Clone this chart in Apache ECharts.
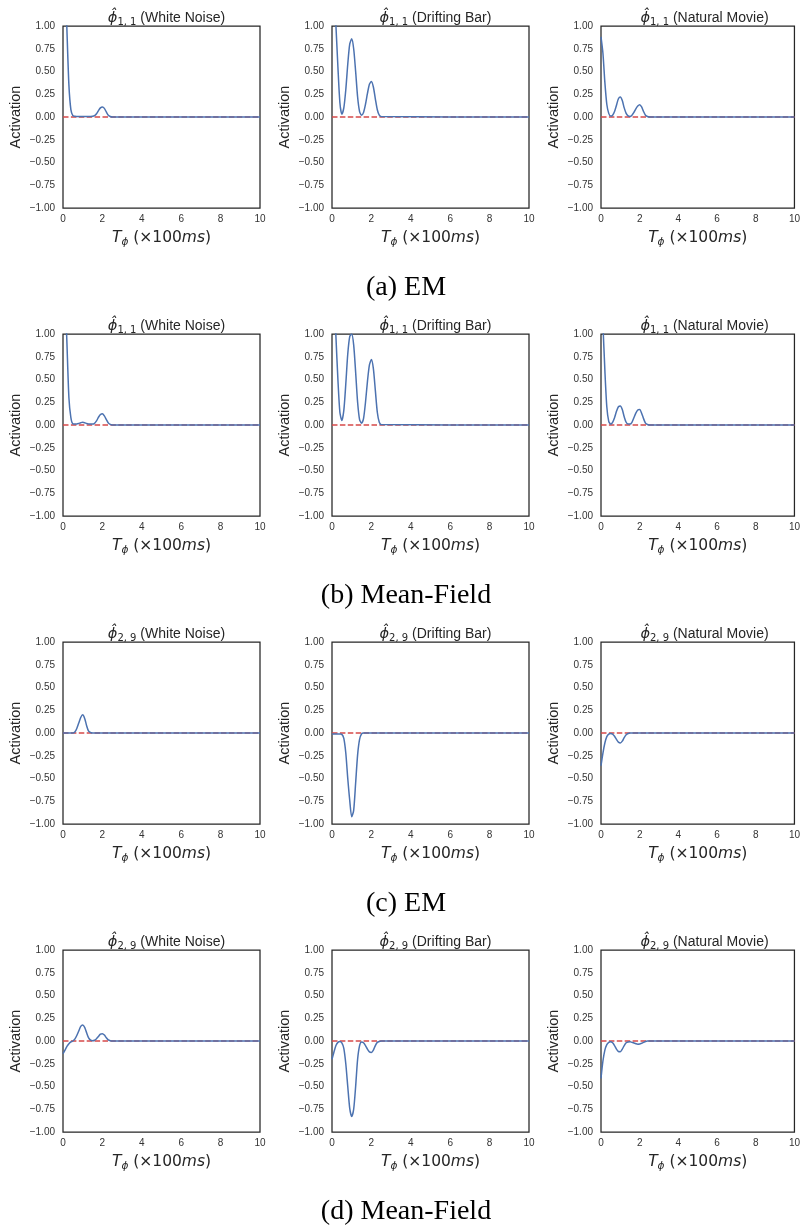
<!DOCTYPE html>
<html lang="en">
  <head>
    <meta charset="UTF-8" />
    <title>Learned basis activations</title>
    <script src="https://cdn.jsdelivr.net/npm/echarts@6.0.0/dist/echarts.min.js"></script>
    <style>
      body { margin: 0; background: #fff; }
    </style>
  </head>
  <body>
    <div id="main" style="width: 803px; height: 1226px"></div>
    <script type="text/javascript">
      // time grid (x 100ms), every curve is flat at zero after 2.5
      const times = [0, 0.1, 0.2, 0.3, 0.4, 0.5, 0.6, 0.7, 0.8, 0.9, 1.0, 1.1, 1.2, 1.3,
        1.4, 1.5, 1.6, 1.7, 1.8, 1.9, 2.0, 2.1, 2.2, 2.3, 2.4, 2.5, 10];

      // (a) EM, phi_{1,1}
      const emWhite11 = [2.3, 1.6, 0.95, 0.35, 0.08, 0.015, 0.008, 0.006, 0.005, 0.005, 0.005, 0.005, 0.005, 0.005,
        0.006, 0.008, 0.015, 0.035, 0.07, 0.1, 0.11, 0.095, 0.055, 0.02, 0.006, 0, 0];
      const emBar11 = [1.8, 1.38, 1.0, 0.55, 0.16, 0.03, 0.1, 0.3, 0.58, 0.8, 0.86, 0.75, 0.5, 0.22,
        0.06, 0.02, 0.05, 0.14, 0.26, 0.36, 0.39, 0.33, 0.2, 0.08, 0.02, 0.005, 0];
      const emMovie11 = [0.88, 0.7, 0.38, 0.14, 0.04, 0.01, 0.02, 0.06, 0.13, 0.2, 0.22, 0.18, 0.1, 0.04,
        0.012, 0.006, 0.02, 0.05, 0.09, 0.12, 0.135, 0.11, 0.06, 0.02, 0.005, 0, 0];

      // (b) Mean-Field, phi_{1,1}
      const mfWhite11 = [2.2, 1.5, 0.9, 0.3, 0.08, 0.012, 0.01, 0.012, 0.018, 0.025, 0.03, 0.025, 0.017, 0.012,
        0.01, 0.01, 0.018, 0.045, 0.085, 0.115, 0.125, 0.1, 0.06, 0.022, 0.006, 0, 0];
      const mfBar11 = [2.0, 1.5, 0.97, 0.5, 0.14, 0.05, 0.16, 0.45, 0.78, 0.97, 1.0, 0.88, 0.58, 0.25,
        0.06, 0.02, 0.07, 0.25, 0.48, 0.66, 0.72, 0.62, 0.38, 0.14, 0.03, 0.005, 0];
      const mfMovie11 = [1.5, 1.1, 0.6, 0.2, 0.04, 0.01, 0.03, 0.08, 0.15, 0.2, 0.21, 0.17, 0.09, 0.03,
        0.01, 0.01, 0.03, 0.08, 0.13, 0.165, 0.17, 0.13, 0.07, 0.02, 0.005, 0, 0];

      // (c) EM, phi_{2,9}
      const emWhite29 = [0, 0, 0, 0, 0, 0, 0.01, 0.05, 0.11, 0.17, 0.2, 0.16, 0.08, 0.02,
        0.005, 0, 0, 0, 0, 0, 0, 0, 0, 0, 0, 0, 0];
      const emBar29 = [-0.01, -0.01, -0.01, -0.01, -0.012, -0.015, -0.06, -0.22, -0.5, -0.74, -0.92, -0.85, -0.55, -0.24,
        -0.07, -0.01, 0, 0, 0, 0, 0, 0, 0, 0, 0, 0, 0];
      const emMovie29 = [-0.36, -0.22, -0.11, -0.04, -0.012, -0.006, -0.012, -0.035, -0.07, -0.1, -0.11, -0.09, -0.05, -0.02,
        -0.006, 0, 0, 0, 0, 0, 0, 0, 0, 0, 0, 0, 0];

      // (d) Mean-Field, phi_{2,9}
      const mfWhite29 = [-0.14, -0.1, -0.06, -0.03, -0.01, 0, 0.02, 0.06, 0.11, 0.16, 0.175, 0.15, 0.09, 0.035,
        0.01, 0.003, 0.008, 0.025, 0.05, 0.075, 0.08, 0.065, 0.035, 0.012, 0.003, 0, 0];
      const mfBar29 = [-0.2, -0.12, -0.05, -0.015, -0.005, -0.02, -0.08, -0.25, -0.5, -0.74, -0.83, -0.75, -0.5, -0.2,
        -0.05, -0.01, -0.02, -0.05, -0.09, -0.12, -0.125, -0.1, -0.05, -0.015, -0.005, 0, 0];
      const mfMovie29 = [-0.41, -0.22, -0.1, -0.04, -0.015, -0.008, -0.02, -0.05, -0.09, -0.115, -0.117, -0.09, -0.05, -0.02,
        -0.01, -0.008, -0.015, -0.022, -0.03, -0.035, -0.033, -0.025, -0.015, -0.005, 0, 0, 0];

      const stimuli = ["White Noise", "Drifting Bar", "Natural Movie"];
      const basisIndex = ["1, 1", "1, 1", "2, 9", "2, 9"];
      const captions = ["(a) EM", "(b) Mean-Field", "(c) EM", "(d) Mean-Field"];
      const curves = [
        [emWhite11, emBar11, emMovie11],
        [mfWhite11, mfBar11, mfMovie11],
        [emWhite29, emBar29, emMovie29],
        [mfWhite29, mfBar29, mfMovie29],
      ];
      const xTicks = [0, 2, 4, 6, 8, 10];

      const colLeft = [63, 332, 601];
      const rowTop = [26, 334, 642, 950];
      const plotW = 197;
      const plotH = 182;
      const ink = "#262626";

      const titles = [];
      const grids = [];
      const xAxes = [];
      const yAxes = [];
      const series = [];

      curves.forEach((row, r) => {
        titles.push({
          text: captions[r],
          left: 401,
          top: rowTop[r] + plotH + 61,
          textAlign: "center",
          textStyle: { fontFamily: "Liberation Serif", fontSize: 28, fontWeight: "normal", color: "#000" },
        });
        row.forEach((vals, c) => {
          const i = grids.length;
          titles.push({
            text: "{phi|\u03d5\u0302}{sub|" + basisIndex[r] + "}{txt| (" + stimuli[c] + ")}",
            left: colLeft[c] + plotW / 2,
            top: rowTop[r] - 22,
            textAlign: "center",
            textStyle: {
              fontWeight: "normal",
              rich: {
                phi: { fontFamily: "DejaVu Sans", fontStyle: "italic", fontWeight: "normal", fontSize: 14.5, color: ink, lineHeight: 18 },
                sub: { fontFamily: "DejaVu Sans", fontWeight: "normal", fontSize: 10, color: ink, lineHeight: 10, verticalAlign: "bottom" },
                txt: { fontFamily: "Liberation Sans", fontWeight: "normal", fontSize: 14, color: ink, lineHeight: 18 },
              },
            },
          });
          grids.push({
            left: colLeft[c],
            top: rowTop[r],
            width: plotW,
            height: plotH,
            show: true,
            borderColor: ink,
            borderWidth: 1.25,
          });
          xAxes.push({
            type: "value",
            gridIndex: i,
            min: 0,
            max: 10,
            interval: 2,
            name: "{it|T}{sub|\u03d5}{n| (×100}{it|ms}{n|)}",
            nameLocation: "middle",
            nameGap: 20,
            nameTextStyle: {
              rich: {
                it: { fontFamily: "DejaVu Sans", fontStyle: "italic", fontSize: 15.5, color: ink, lineHeight: 20 },
                n: { fontFamily: "DejaVu Sans", fontSize: 15.5, color: ink, lineHeight: 20 },
                sub: { fontFamily: "DejaVu Sans", fontStyle: "italic", fontSize: 10.5, color: ink, lineHeight: 11, verticalAlign: "bottom" },
              },
            },
            axisLine: { show: false },
            axisTick: { show: false },
            splitLine: { show: false },
            axisLabel: {
              margin: 6,
              fontFamily: "Liberation Sans",
              fontSize: 10,
              color: "#333",
              customValues: xTicks,
            },
          });
          yAxes.push({
            type: "value",
            gridIndex: i,
            min: -1,
            max: 1,
            interval: 0.25,
            name: "Activation",
            nameLocation: "middle",
            nameGap: 40,
            nameTextStyle: { fontFamily: "Liberation Sans", fontSize: 14.5, color: ink },
            axisLine: { show: false },
            axisTick: { show: false },
            splitLine: { show: false },
            axisLabel: {
              margin: 8,
              fontFamily: "Liberation Sans",
              fontSize: 10,
              color: "#333",
              formatter: (v) => (v < 0 ? "\u2212" : "") + Math.abs(v).toFixed(2),
            },
          });
          // zero reference
          series.push({
            type: "line",
            xAxisIndex: i,
            yAxisIndex: i,
            data: [[0, 0], [10, 0]],
            showSymbol: false,
            silent: true,
            z: 2,
            lineStyle: { color: "#d64a4a", width: 1.5, type: [5.5, 2.4] },
          });
          series.push({
            type: "line",
            xAxisIndex: i,
            yAxisIndex: i,
            data: times.map((t, k) => [t, vals[k]]),
            showSymbol: false,
            smooth: 0.25,
            clip: true,
            z: 3,
            lineStyle: { color: "#4c72b0", width: 1.5 },
          });
        });
      });

      let myChart = echarts.init(document.getElementById("main"));
      myChart.setOption({
        animation: false,
        title: titles,
        grid: grids,
        xAxis: xAxes,
        yAxis: yAxes,
        series: series,
      });
    </script>
  </body>
</html>
